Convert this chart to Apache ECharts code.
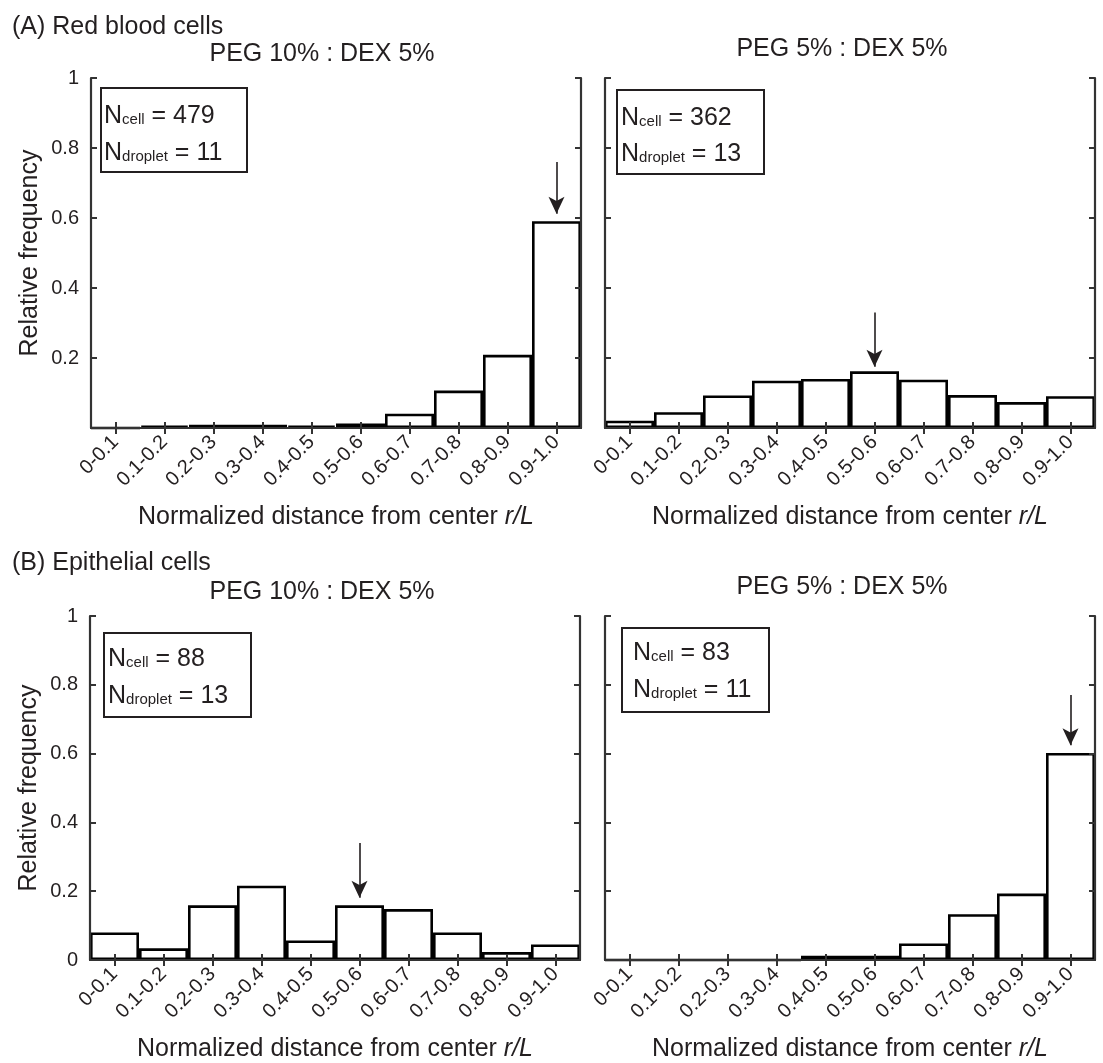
<!DOCTYPE html>
<html>
<head>
<meta charset="utf-8">
<script src="https://cdn.jsdelivr.net/npm/echarts@6/dist/echarts.min.js"></script>
<style>
html,body{margin:0;padding:0;background:#fff;}
#chart{width:1103px;height:1063px;}
</style>
</head>
<body>
<div id="chart"></div>
<script>
// ---- data ----
const categories = ['0-0.1','0.1-0.2','0.2-0.3','0.3-0.4','0.4-0.5','0.5-0.6','0.6-0.7','0.7-0.8','0.8-0.9','0.9-1.0'];
const rbcPeg10 = [0, 0.007, 0.009, 0.009, 0.007, 0.013, 0.041, 0.107, 0.209, 0.591];
const rbcPeg5  = [0.021, 0.045, 0.093, 0.135, 0.140, 0.162, 0.138, 0.094, 0.074, 0.091];
const epiPeg10 = [0.080, 0.034, 0.159, 0.216, 0.057, 0.159, 0.148, 0.080, 0.023, 0.045];
const epiPeg5  = [0, 0, 0, 0, 0.012, 0.012, 0.048, 0.133, 0.193, 0.602];
const yTicks = [0, 0.2, 0.4, 0.6, 0.8, 1];
const panelTitles = ['PEG 10% : DEX 5%', 'PEG 5% : DEX 5%', 'PEG 10% : DEX 5%', 'PEG 5% : DEX 5%'];
const sectionTitles = ['(A) Red blood cells', '(B) Epithelial cells'];
const nCell = [479, 362, 88, 83];
const nDroplet = [11, 13, 13, 11];
const arrowCats = ['0.9-1.0', '0.5-0.6', '0.5-0.6', '0.9-1.0'];
const arrowFrom = [0.76, 0.33, 0.34, 0.77];
const arrowTo   = [0.612, 0.175, 0.181, 0.624];

// ---- layout ----
const FONT = '"Liberation Sans", Arial, sans-serif';
const INK = '#231f20';
const FRAME = '#333333';
const panels = [
  {left: 91,  top: 78,  data: rbcPeg10, yLabels: true,  showZero: false, titleX: 322, titleDy: 24, box: [101, 88, 146, 84], text: [104, 115, 152]},
  {left: 605, top: 78,  data: rbcPeg5,  yLabels: false, showZero: false, titleX: 842, titleDy: 29, box: [617, 90, 147, 84], text: [621, 117, 153]},
  {left: 90,  top: 616, data: epiPeg10, yLabels: true,  showZero: true,  titleX: 322, titleDy: 24, box: [104, 633, 147, 84], text: [108, 658, 695]},
  {left: 605, top: 616, data: epiPeg5,  yLabels: false, showZero: true,  titleX: 842, titleDy: 29, box: [622, 628, 147, 84], text: [633, 652, 689]}
];
const W = 490, H = 350;

const grids = [], xAxes = [], yAxes = [], series = [], graphics = [];
const tickStyle = {show: true, inside: true, length: 6, lineStyle: {color: FRAME, width: 2}};
const lineStyle = {show: true, lineStyle: {color: FRAME, width: 2.2}};

panels.forEach((p, i) => {
  grids.push({left: p.left, top: p.top, width: W, height: H});
  xAxes.push({
    type: 'category', gridIndex: i, data: categories, position: 'bottom', z: 5,
    axisLine: lineStyle,
    axisTick: Object.assign({alignWithLabel: true, interval: 0}, tickStyle),
    axisLabel: {rotate: 45, fontSize: 20, margin: 11, color: INK, interval: 0, fontFamily: FONT},
    splitLine: {show: false},
    name: 'Normalized distance from center {i|r/L}',
    nameLocation: 'middle', nameGap: 77,
    nameTextStyle: {fontSize: 25, color: INK, fontFamily: FONT,
      rich: {i: {fontStyle: 'italic', fontSize: 25, color: INK, fontFamily: FONT}}}
  });
  xAxes.push({
    type: 'category', gridIndex: i, data: categories, position: 'top', z: 5,
    axisLine: lineStyle,
    axisTick: Object.assign({alignWithLabel: true, interval: 0}, tickStyle),
    axisLabel: {show: false},
    splitLine: {show: false}
  });
  yAxes.push({
    type: 'value', gridIndex: i, min: yTicks[0], max: yTicks[yTicks.length - 1], interval: yTicks[1] - yTicks[0],
    position: 'left', z: 5,
    axisLine: lineStyle,
    axisTick: tickStyle,
    splitLine: {show: false},
    axisLabel: {show: p.yLabels, fontSize: 20, margin: 12, color: INK, fontFamily: FONT,
      formatter: v => (v === 0 && !p.showZero) ? '' : String(+v.toFixed(1))},
    name: p.yLabels ? 'Relative frequency' : '',
    nameLocation: 'middle', nameGap: 48, nameRotate: 90,
    nameTextStyle: {fontSize: 25, color: INK, fontFamily: FONT}
  });
  yAxes.push({
    type: 'value', gridIndex: i, min: yTicks[0], max: yTicks[yTicks.length - 1], interval: yTicks[1] - yTicks[0],
    position: 'right', z: 5,
    axisLine: lineStyle,
    axisTick: tickStyle,
    splitLine: {show: false},
    axisLabel: {show: false}
  });
  series.push({
    type: 'bar', xAxisIndex: 2 * i, yAxisIndex: 2 * i, data: p.data,
    barCategoryGap: '0%', z: 2,
    itemStyle: {color: '#ffffff', borderColor: '#000000', borderWidth: 2.6},
    emphasis: {disabled: true},
    silent: true,
    markLine: {
      silent: true, symbol: ['none', 'arrow'], symbolSize: [12, 17],
      label: {show: false},
      lineStyle: {color: INK, width: 1.6, type: 'solid'},
      emphasis: {disabled: true},
      data: [[{coord: [arrowCats[i], arrowFrom[i]]}, {coord: [arrowCats[i], arrowTo[i]]}]]
    }
  });
  // panel title
  graphics.push({type: 'text', x: p.titleX, y: p.top - p.titleDy,
    style: {text: panelTitles[i], font: '25px ' + FONT, fill: INK, align: 'center', verticalAlign: 'middle'}});
  // N box
  const b = p.box, t = p.text;
  graphics.push({type: 'rect', shape: {x: b[0], y: b[1], width: b[2], height: b[3]},
    style: {fill: '#ffffff', stroke: INK, lineWidth: 2}, z: 10});
  const rich = {
    n: {fontSize: 25, fontFamily: FONT, fill: INK, verticalAlign: 'bottom', lineHeight: 28},
    s: {fontSize: 15, fontFamily: FONT, fill: INK, verticalAlign: 'bottom', lineHeight: 28, padding: [0, 0, 2, 0]}
  };
  graphics.push({type: 'text', x: t[0], y: t[1], z: 11,
    style: {text: '{n|N}{s|cell}{n| = ' + nCell[i] + '}', rich: rich, verticalAlign: 'middle', align: 'left'}});
  graphics.push({type: 'text', x: t[0], y: t[2], z: 11,
    style: {text: '{n|N}{s|droplet}{n| = ' + nDroplet[i] + '}', rich: rich, verticalAlign: 'middle', align: 'left'}});
});

graphics.push({type: 'text', x: 12, y: 27, style: {text: sectionTitles[0], font: '25px ' + FONT, fill: INK, verticalAlign: 'middle'}});
graphics.push({type: 'text', x: 12, y: 563, style: {text: sectionTitles[1], font: '25px ' + FONT, fill: INK, verticalAlign: 'middle'}});

const chart = echarts.init(document.getElementById('chart'), null, {renderer: 'canvas'});
chart.setOption({
  backgroundColor: '#ffffff',
  animation: false,
  textStyle: {fontFamily: FONT},
  grid: grids, xAxis: xAxes, yAxis: yAxes, series: series,
  graphic: graphics
});
</script>
</body>
</html>
